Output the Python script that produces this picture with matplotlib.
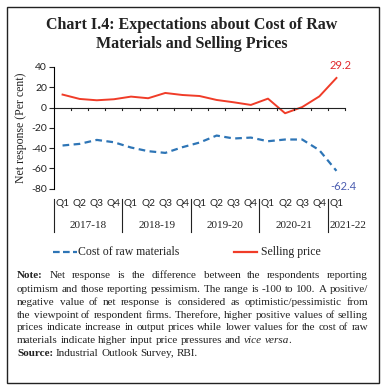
import numpy as np
import matplotlib
matplotlib.use('Agg')
import matplotlib.pyplot as plt
from matplotlib.patches import Rectangle
from matplotlib.lines import Line2D
from matplotlib.transforms import blended_transform_factory

plt.rcParams['axes.unicode_minus'] = False

# data
quarters = ['Q1', 'Q2', 'Q3', 'Q4'] * 4 + ['Q1']
years = ['2017-18', '2018-19', '2019-20', '2020-21', '2021-22']
cost_raw = [-37.4, -35.8, -31.9, -34.2, -39.4, -43.0, -44.7, -39.1,
            -34.5, -27.6, -30.5, -29.6, -33.2, -31.5, -31.5, -42.0, -62.4]
selling = [12.8, 8.5, 7.2, 8.2, 10.8, 9.2, 14.4, 12.4,
           11.4, 7.5, 5.2, 2.6, 8.8, -5.6, 0.5, 11.0, 29.2]

W, H = 383, 389
serif = 'Liberation Serif'
sans = 'Lato'
red = '#f03c28'
blue = '#2e75b6'

fig = plt.figure(figsize=(W / 100, H / 100), dpi=100)

def fx(px):
    return px / W

def fy(py):
    return 1 - py / H

# outer frame
fig.patches.append(Rectangle((fx(7), fy(382.5)), fx(372), 375.5 / H, transform=fig.transFigure,
                             fill=False, edgecolor='#222222', linewidth=1.0))

# title
fig.text(0.5, fy(25), 'Chart I.4: Expectations about Cost of Raw', ha='center', va='center',
         fontsize=11.5, fontweight='bold', family=serif, color='#222222')
fig.text(0.5, fy(44), 'Materials and Selling Prices', ha='center', va='center',
         fontsize=11.5, fontweight='bold', family=serif, color='#222222')

ax = fig.add_axes([fx(54), fy(188.7), fx(345 - 54), (188.7 - 67) / H])
x = np.arange(len(selling))
ax.plot(x, selling, color=red, linewidth=1.4)
ax.plot(x, cost_raw, color=blue, linewidth=1.6, linestyle=(0, (3, 2)))
ax.set_xlim(-0.5, len(x) - 0.5)
ax.set_ylim(-80, 40)
ax.set_yticks(np.arange(-80, 41, 20))
ax.tick_params(axis='y', labelsize=7.5, length=3.5, width=0.8, pad=1.5, colors='#222222')
for lab in ax.get_yticklabels():
    lab.set_family(sans)
ax.set_xticks([])
for s in ['top', 'right', 'bottom']:
    ax.spines[s].set_visible(False)
ax.spines['left'].set_linewidth(0.8)
ax.set_ylabel('Net response (Per cent)', family=serif, fontsize=8.5, color='#222222')
ax.yaxis.set_label_coords(-(54 - 27) / 291, 0.5)

# zero line with ticks at quarter boundaries
ax.axhline(0, color='#222222', linewidth=0.8)
bounds = np.arange(0, len(x) + 1) - 0.5
for b in bounds[1:]:
    ax.plot([b, b], [0, -2.6], color='#222222', linewidth=0.8, clip_on=False)

# data labels
ax.annotate(f'{selling[-1]:.1f}', (x[-1], selling[-1]), xytext=(3, 5), textcoords='offset points',
            ha='center', va='bottom', color='#e0282c', fontsize=8, family=sans)
ax.annotate(f'{cost_raw[-1]:.1f}', (x[-1], cost_raw[-1]), xytext=(5, -7), textcoords='offset points',
            ha='center', va='top', color='#4a5cb0', fontsize=8, family=sans)

# category axis below the plot
tr = blended_transform_factory(ax.transData, fig.transFigure)
for i, q in enumerate(quarters):
    ax.text(i, fy(203), q, transform=tr, ha='center', va='center',
            fontsize=7.3, family=sans, color='#222222', clip_on=False)
for k in range(5):
    b = -0.5 + 4 * k
    ax.add_line(Line2D([b, b], [fy(199), fy(232)], transform=tr, color='#222222',
                       linewidth=0.8, clip_on=False))
for k, yr in enumerate(years):
    c = 1.5 + 4 * k if k < 4 else 16.7
    ax.text(c, fy(225), yr, transform=tr, ha='center', va='center',
            fontsize=8, family=serif, color='#222222', clip_on=False)

# legend
fig.add_artist(Line2D([fx(53), fx(77)], [fy(252), fy(252)], color=blue, linewidth=1.6,
                      linestyle=(0, (3, 1.5))))
fig.text(fx(78), fy(252), 'Cost of raw materials', ha='left', va='center',
         fontsize=8.5, family=serif, color='#222222')
fig.add_artist(Line2D([fx(234), fx(257)], [fy(252), fy(252)], color=red, linewidth=1.6))
fig.text(fx(261), fy(252), 'Selling price', ha='left', va='center',
         fontsize=8.5, family=serif, color='#222222')

# justified note text
def plain(s):
    return [(w, 'normal', 'normal') for w in s.split()]

note_lines = [
    ([('Note:', 'bold', 'normal')] + plain('Net response is the difference between the respondents reporting'), True),
    (plain('optimism and those reporting pessimism. The range is -100 to 100. A positive/'), True),
    (plain('negative value of net response is considered as optimistic/pessimistic from'), True),
    (plain('the viewpoint of respondent firms. Therefore, higher positive values of selling'), True),
    (plain('prices indicate increase in output prices while lower values for the cost of raw'), True),
    (plain('materials indicate higher input price pressures and')
     + [('vice', 'normal', 'italic'), ('versa', 'normal', 'italic'), ('.', 'normal', 'normal')], False),
    ([('Source:', 'bold', 'normal')] + plain('Industrial Outlook Survey, RBI.'), False),
]
line_y = [276, 289.5, 302.3, 315.1, 327.9, 340.7, 353.5]
left, right = 17, 368
fs = 8.0
renderer = fig.canvas.get_renderer()
t1 = fig.text(0, 0, 'a b', fontsize=fs, family=serif)
t2 = fig.text(0, 0, 'ab', fontsize=fs, family=serif)
space = t1.get_window_extent(renderer).width - t2.get_window_extent(renderer).width
t1.remove()
t2.remove()
for (words, just), yy in zip(note_lines, line_y):
    arts = []
    for w, wt, st in words:
        t = fig.text(0, fy(yy), w, fontsize=fs, family=serif, weight=wt, style=st,
                     ha='left', va='center', color='#222222')
        arts.append((t, t.get_window_extent(renderer).width))
    total = sum(wd for _, wd in arts)
    gap = (right - left - total) / (len(arts) - 1) if just else space
    pos = left
    for i, (t, wd) in enumerate(arts):
        if not just and words[i][0] == '.':
            pos -= space
        t.set_x(fx(pos))
        pos += wd + gap

fig.savefig('out.png', dpi=100)
